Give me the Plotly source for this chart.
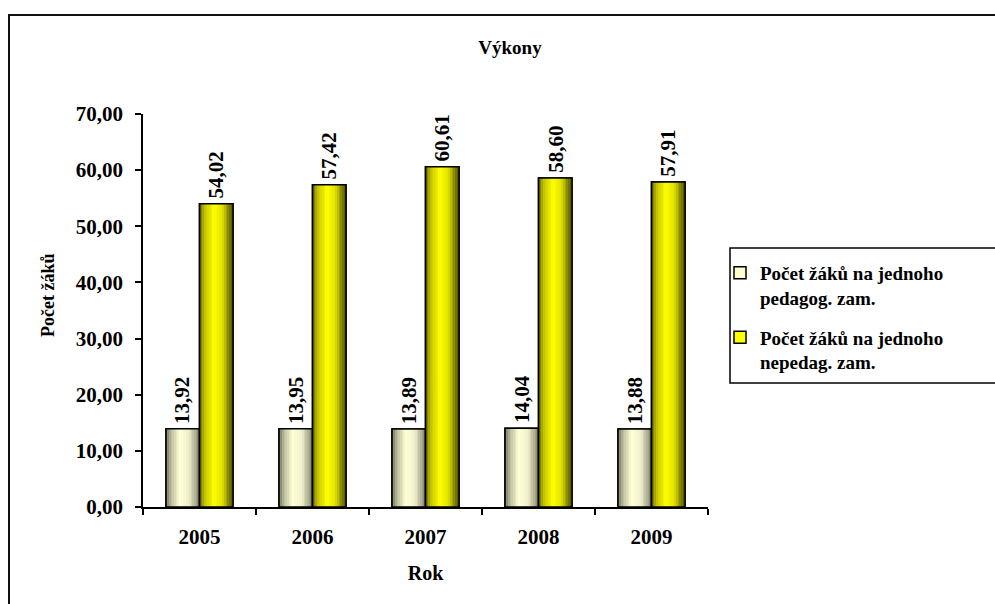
import plotly.graph_objects as go

# Data
years = ["2005", "2006", "2007", "2008", "2009"]
pedagog = [13.92, 13.95, 13.89, 14.04, 13.88]
nepedag = [54.02, 57.42, 60.61, 58.60, 57.91]
series_names = [
    "Počet žáků na jednoho<br>pedagog. zam.",
    "Počet žáků na jednoho<br>nepedag. zam.",
]
y_tickvals = [0, 10, 20, 30, 40, 50, 60, 70]

FONT = "Liberation Serif"
BAR_W = 0.2965          # width of one bar in category units
N_STRIPS = 20           # strips used to shade each bar like a cylinder

# colour stops (position, rgb) for the horizontal shading of each series
pale_stops = [(0.0, (100, 100, 80)), (0.15, (185, 185, 155)), (0.42, (255, 255, 214)),
              (0.70, (238, 238, 204)), (1.0, (135, 135, 110))]
yellow_stops = [(0.0, (90, 90, 0)), (0.17, (195, 195, 0)), (0.45, (255, 255, 0)),
                (0.70, (225, 225, 0)), (1.0, (80, 80, 0))]


def shade(stops, t):
    for (p0, c0), (p1, c1) in zip(stops[:-1], stops[1:]):
        if p0 <= t <= p1:
            f = (t - p0) / (p1 - p0)
            c = [round(a + (b - a) * f) for a, b in zip(c0, c1)]
            return f"rgb({c[0]},{c[1]},{c[2]})"
    c = stops[-1][1]
    return f"rgb({c[0]},{c[1]},{c[2]})"


def fmt(v):
    return f"{v:.2f}".replace(".", ",")


# plot-area geometry in pixels
L, R, T, B = 143, 287, 114, 97
PW, PH = 995 - L - R, 604 - T - B


def px_x(x):
    return (x - L) / PW


def px_y(y):
    return (604 - B - y) / PH


fig = go.Figure()
annotations = []

series = [
    (pedagog, series_names[0], pale_stops, "#FFFFCC", -BAR_W, "ped"),
    (nepedag, series_names[1], yellow_stops, "#FFFF00", 0.0, "neped"),
]

for vals, name, stops, solid, offset, grp in series:
    # base bar, also used for the legend entry
    fig.add_trace(go.Bar(
        x=years, y=vals, name=name, width=BAR_W, offset=offset, legendgroup=grp,
        marker=dict(color=solid, line=dict(color="black", width=1.5)),
        hoverinfo="skip",
    ))
    # shading strips
    sw = BAR_W / N_STRIPS
    for i in range(N_STRIPS):
        t = (i + 0.5) / N_STRIPS
        fig.add_trace(go.Bar(
            x=years, y=vals, width=sw * 1.05, offset=offset + i * sw, legendgroup=grp,
            marker=dict(color=shade(stops, t), line=dict(width=0)),
            showlegend=False, hoverinfo="skip",
        ))
    # outline
    fig.add_trace(go.Bar(
        x=years, y=vals, width=BAR_W, offset=offset, legendgroup=grp,
        marker=dict(color="rgba(0,0,0,0)", line=dict(color="black", width=1.5)),
        showlegend=False, hoverinfo="skip",
    ))
    # value labels above each bar (x given as category index + bar centre offset)
    for idx, v in enumerate(vals):
        annotations.append(dict(
            x=idx + offset + BAR_W / 2, y=v, xref="x", yref="y",
            text=fmt(v), textangle=-90,
            xanchor="center", yanchor="bottom", showarrow=False, yshift=3,
            font=dict(family=FONT, size=21, color="black", weight="bold"),
        ))

shapes = [
    # outer chart border (runs past the right and bottom edges)
    dict(type="rect", xref="paper", yref="paper",
         x0=px_x(9), x1=px_x(1010), y0=px_y(620), y1=px_y(15),
         line=dict(color="#111111", width=2), fillcolor="rgba(0,0,0,0)"),
    # legend frame
    dict(type="rect", xref="paper", yref="paper",
         x0=px_x(730), x1=px_x(1010), y0=px_y(383), y1=px_y(248),
         line=dict(color="black", width=1.5), fillcolor="rgba(0,0,0,0)"),
]

annotations.append(dict(
    text="Počet žáků", textangle=-90, xref="paper", yref="paper",
    x=px_x(48), y=px_y(296), xanchor="center", yanchor="middle", showarrow=False,
    font=dict(family=FONT, size=18, color="black", weight="bold"),
))

fig.update_layout(
    width=995, height=604,
    margin=dict(l=L, r=R, t=T, b=B, autoexpand=False),
    paper_bgcolor="white", plot_bgcolor="white",
    barmode="overlay",
    separators=", ",
    font=dict(family=FONT, color="black"),
    title=dict(text="Výkony", x=510 / 995, xanchor="center",
               y=1 - 47 / 604, yanchor="middle",
               font=dict(family=FONT, size=19, color="black", weight="bold")),
    xaxis=dict(
        type="category", categoryorder="array", categoryarray=years,
        range=[-0.5, len(years) - 0.5],
        showline=True, linecolor="black", linewidth=1.5,
        ticks="outside", tickson="boundaries", ticklen=6, tickcolor="black", tickwidth=1.5,
        ticklabelstandoff=10,
        tickfont=dict(family=FONT, size=21, color="black", weight="bold"),
        title=dict(text="Rok", standoff=18,
                   font=dict(family=FONT, size=20, color="black", weight="bold")),
        showgrid=False, zeroline=False,
    ),
    yaxis=dict(
        range=[0, 70], tickvals=y_tickvals, tickformat=".2f",
        showline=True, linecolor="black", linewidth=1.5,
        ticks="outside", ticklen=6, tickcolor="black", tickwidth=1.5,
        ticklabelstandoff=8,
        tickfont=dict(family=FONT, size=21, color="black", weight="bold"),
        showgrid=False, zeroline=False,
    ),
    legend=dict(
        x=px_x(720), y=px_y(254), xanchor="left", yanchor="top",
        bgcolor="rgba(0,0,0,0)", valign="top", tracegroupgap=12,
        font=dict(family=FONT, size=19, color="black", weight="bold"),
        itemwidth=30,
    ),
    shapes=shapes,
    annotations=annotations,
    showlegend=True,
)

fig.write_html("out.html")
